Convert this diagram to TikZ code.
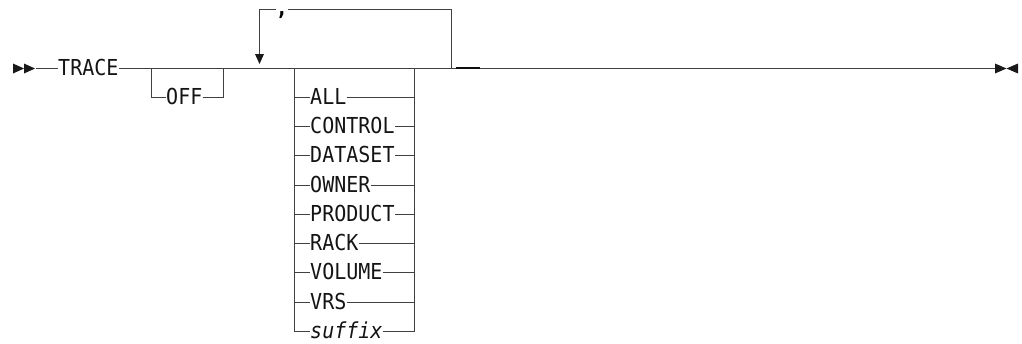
\documentclass[tikz,border=0pt]{standalone}
\usepackage{fontspec}
\newfontfamily\rrfont{DejaVu Sans Mono}[FakeStretch=0.91]
\begin{document}
\begin{tikzpicture}[x=1pt,y=-1pt,
  rail/.style={draw=black!75, line width=1pt},
  lbl/.style={font=\rrfont\fontsize{22}{24}\selectfont, inner xsep=0pt, inner ysep=0pt,
              text height=13pt, text depth=0pt, anchor=west, text=black!92},
  tip/.style={fill=black!90, draw=none}]
\useasboundingbox (0,0) rectangle (1022,343);
% coordinates
\coordinate (start) at (36,68.5);
\coordinate (end) at (995,68.5);
\coordinate (offL) at (151.5,68.5);
\coordinate (offR) at (223.5,68.5);
\coordinate (chL) at (294.5,68.5);
\coordinate (chR) at (414.5,68.5);
\coordinate (loopR) at (451.5,68.5);
\coordinate (loopTop) at (451.5,9.5);
\coordinate (atip) at (259.5,64);
\coordinate (abase) at (259.5,54);
% labels
\node[lbl] (trace) at (58,68.5) {TRACE};
\node[lbl] (off) at (166,97.5) {OFF};
\node[lbl] (all) at (310,97.5) {ALL};
\node[lbl] (control) at (310,126.5) {CONTROL};
\node[lbl] (dataset) at (310,155.5) {DATASET};
\node[lbl] (owner) at (310,185.5) {OWNER};
\node[lbl] (product) at (310,214.5) {PRODUCT};
\node[lbl] (rack) at (310,243.5) {RACK};
\node[lbl] (volume) at (310,272.5) {VOLUME};
\node[lbl] (vrs) at (310,302.5) {VRS};
\node[lbl] (suffix) at (310,331.5) {\itshape suffix};
\node[font=\rrfont\fontsize{22}{24}\selectfont\bfseries, inner sep=0pt, anchor=base, text=black] (comma) at (282,15) {,};
% start and end marks
\fill[tip] (13,63.5) -- (24,68.5) -- (13,73.5) -- cycle;
\fill[tip] (24,63.5) -- (35,68.5) -- (24,73.5) -- cycle;
\fill[tip] (995,63.5) -- (1006.5,68.5) -- (995,73.5) -- cycle;
\fill[tip] (1018,63.5) -- (1006.5,68.5) -- (1018,73.5) -- cycle;
% main line
\draw[rail] (start) -- (trace.west);
\draw[rail] (trace.east) -- (end);
\draw[line width=2pt, black!95] (456,68) -- (480,68);
% OFF branch
\draw[rail] (offL) |- (off.west);
\draw[rail] (off.east) -| (offR);
% choice stack
\draw[rail] (chL) |- (suffix.west);
\draw[rail] (suffix.east) -| (chR);
\foreach \n in {all,control,dataset,owner,product,rack,volume,vrs}{
  \draw[rail] (chL |- \n.west) -- (\n.west);
  \draw[rail] (\n.east) -- (chR |- \n.east);
}
% repeat loop
\draw[rail] (loopR) -- (loopTop) -- (comma.east |- loopTop);
\draw[rail] (comma.west |- loopTop) -| (abase);
\fill[tip] (atip) -- (255,54) -- (264,54) -- cycle;
\end{tikzpicture}
\end{document}
